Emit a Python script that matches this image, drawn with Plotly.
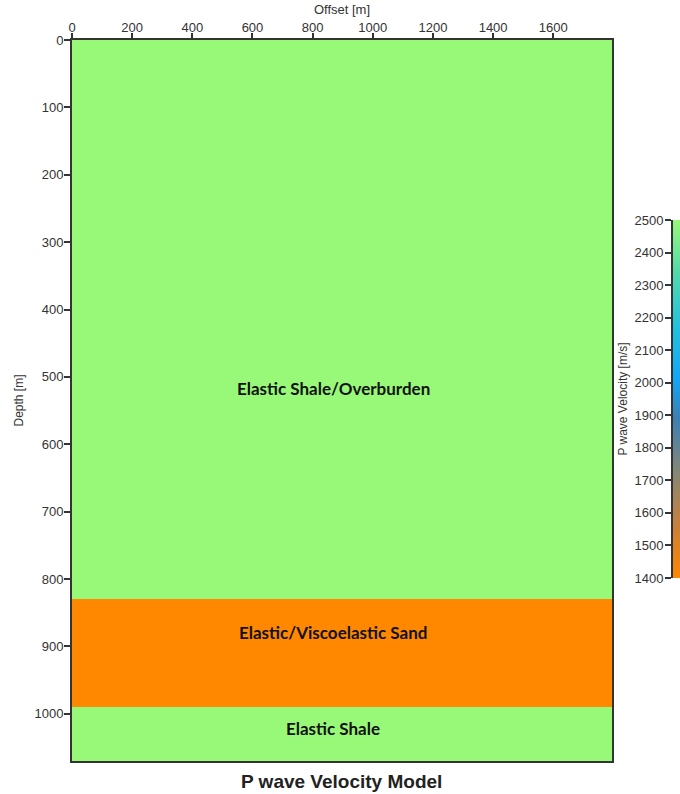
import plotly.graph_objects as go

# Layered earth model: layer boundaries (depth, m) and P-wave velocity per layer
offset_extent = [0, 1795]
layer_tops = [0, 830, 990, 1070]
layer_vp = [2500, 1400, 2500]
layer_names = ["Elastic Shale/Overburden", "Elastic/Viscoelastic Sand", "Elastic Shale"]
label_offsets = [868, 868, 868]
label_depths = [517, 880, 1022]

offset_ticks = [0, 200, 400, 600, 800, 1000, 1200, 1400, 1600]
depth_ticks = [0, 100, 200, 300, 400, 500, 600, 700, 800, 900, 1000]
vp_ticks = [1400, 1500, 1600, 1700, 1800, 1900, 2000, 2100, 2200, 2300, 2400, 2500]

vp_min, vp_max = 1400, 2500
colorscale = [
    [0.00, "#ff8800"],
    [0.14, "#cc8038"],
    [0.30, "#848878"],
    [0.45, "#3c80b4"],
    [0.56, "#12a8f6"],
    [0.70, "#20c2de"],
    [0.85, "#52d8ae"],
    [1.00, "#98f878"],
]

AX = "#333333"
SANS = "Liberation Sans, Arial, sans-serif"
tick_font = dict(family=SANS, size=13, color=AX)

fig = go.Figure()

# velocity model
fig.add_trace(go.Heatmap(
    x=offset_extent,
    y=layer_tops,
    z=[[v] for v in layer_vp],
    colorscale=colorscale,
    zmin=vp_min, zmax=vp_max,
    showscale=False,
    hoverinfo="skip",
    xaxis="x", yaxis="y",
))

# colour bar drawn as its own gradient panel with labels on the left
fig.add_trace(go.Heatmap(
    x=[0, 1],
    y=vp_ticks,
    z=[[v, v] for v in vp_ticks],
    colorscale=colorscale,
    zmin=vp_min, zmax=vp_max,
    zsmooth="best",
    showscale=False,
    hoverinfo="skip",
    xaxis="x2", yaxis="y2",
))

for name, xo, yd in zip(layer_names, label_offsets, label_depths):
    fig.add_annotation(
        x=xo, y=yd, xref="x", yref="y", text=f"<b>{name}</b>", showarrow=False,
        font=dict(family="Lato, Open Sans, sans-serif", size=17, color="#111111"),
        xanchor="center", yanchor="middle",
    )

fig.add_annotation(
    x=0.443, y=-0.029, xref="paper", yref="paper",
    text="<b>P wave Velocity Model</b>", showarrow=False,
    font=dict(family=SANS, size=19, color="#222222"),
    xanchor="center", yanchor="middle",
)

fig.update_layout(
    width=680, height=794,
    margin=dict(l=72, r=0, t=40, b=33),
    paper_bgcolor="white", plot_bgcolor="white",
    showlegend=False,
    xaxis=dict(
        domain=[0, 0.888], range=offset_extent, side="top",
        tickvals=offset_ticks, ticks="outside", ticklen=5, tickwidth=1.5, tickcolor=AX,
        tickfont=tick_font, ticklabelstandoff=-4, showgrid=False, zeroline=False,
        showline=True, linecolor=AX, linewidth=2, mirror=True,
        title=dict(text="Offset [m]", font=dict(family=SANS, size=13, color=AX), standoff=2),
        anchor="y",
    ),
    yaxis=dict(
        domain=[0, 1], range=[layer_tops[-1], 0],
        tickvals=depth_ticks, ticks="outside", ticklen=6, tickwidth=1.5, tickcolor=AX,
        tickfont=tick_font, ticklabelstandoff=-2, showgrid=False, zeroline=False,
        showline=True, linecolor=AX, linewidth=2, mirror=True,
        title=dict(text="Depth [m]", font=dict(family=SANS, size=12, color=AX), standoff=8),
        anchor="x",
    ),
    xaxis2=dict(
        domain=[0.9885, 1.0], range=[0, 1], showticklabels=False, ticks="",
        showgrid=False, zeroline=False, showline=False, anchor="y2", fixedrange=True,
    ),
    yaxis2=dict(
        domain=[0.2538, 0.7503], range=[vp_min, vp_max], side="left",
        tickvals=vp_ticks, ticks="outside", ticklen=6, tickwidth=1.5, tickcolor=AX,
        tickfont=tick_font, ticklabelstandoff=-1,
        showgrid=False, zeroline=False,
        showline=True, linecolor=AX, linewidth=2,
        title=dict(text="P wave Velocity [m/s]", font=dict(family=SANS, size=12, color=AX), standoff=4),
        anchor="x2",
    ),
)

fig.write_html("out.html")
